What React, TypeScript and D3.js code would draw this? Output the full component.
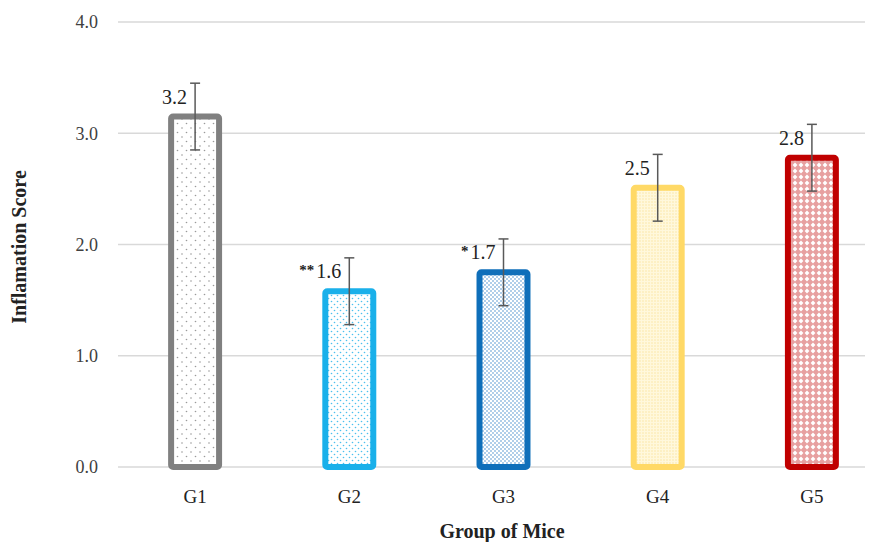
import React from "react";
import * as d3 from "d3";

const categories = ["G1", "G2", "G3", "G4", "G5"];
const values = [3.15, 1.58, 1.75, 2.51, 2.78];
const errors = [0.3, 0.3, 0.3, 0.3, 0.3];
const labels = ["3.2", "1.6", "1.7", "2.5", "2.8"];
const stars = ["", "**", "*", "", ""];
const yTicks = [0, 1, 2, 3, 4];
const strokeColors = ["#808080", "#1ab0ea", "#0f6fba", "#ffd966", "#c00000"];

const W = 877, H = 542;
const font = "'Liberation Serif', 'DejaVu Serif', serif";

export default function App() {
  const x = d3.scaleBand<string>().domain(categories).range([118, 889]).paddingInner(0.65).paddingOuter(0.325);
  const y = d3.scaleLinear().domain([0, 4]).range([467, 22]);
  const sw = 6;
  return (
    <svg width={W} height={H} style={{ position: "absolute", left: 0, top: 0, background: "#fff" }}>
      <defs>
        <pattern id="p0" width="9" height="9" patternUnits="userSpaceOnUse">
          <rect width="9" height="9" fill="#fff" />
          <circle cx="2" cy="2" r="0.8" fill="#9a9a9a" />
          <circle cx="6.5" cy="6.5" r="0.8" fill="#9a9a9a" />
        </pattern>
        <pattern id="p1" width="6" height="6" patternUnits="userSpaceOnUse">
          <rect width="6" height="6" fill="#fff" />
          <circle cx="1.5" cy="1.5" r="0.8" fill="#4cc0ee" />
          <circle cx="4.5" cy="4.5" r="0.8" fill="#4cc0ee" />
        </pattern>
        <pattern id="p2" width="4" height="4" patternUnits="userSpaceOnUse">
          <rect width="4" height="4" fill="#fff" />
          <circle cx="1" cy="1" r="0.75" fill="#3a86c8" />
          <circle cx="3" cy="3" r="0.75" fill="#3a86c8" />
        </pattern>
        <pattern id="p3" width="3" height="3" patternUnits="userSpaceOnUse">
          <rect width="3" height="3" fill="#fff8dc" />
          <circle cx="1" cy="1" r="0.7" fill="#fbe49a" />
        </pattern>
        <pattern id="p4" width="6" height="6" patternUnits="userSpaceOnUse">
          <rect width="6" height="6" fill="#e7a0a0" />
          <path d="M3,0.6 L5.4,3 L3,5.4 L0.6,3 Z" fill="#fff" />
        </pattern>
      </defs>
      {yTicks.map((t) => (
        <g key={t}>
          <line x1={118} x2={865} y1={y(t)} y2={y(t)} stroke="#d9d9d9" strokeWidth={1.3} />
          <text x={98} y={y(t)} dy="0.35em" textAnchor="end" fontFamily={font} fontSize={18} fill="#404040">
            {t.toFixed(1)}
          </text>
        </g>
      ))}
      {categories.map((c, i) => {
        const bx = x(c)!;
        const bw = x.bandwidth();
        const cx = bx + bw / 2;
        const top = y(values[i]);
        return (
          <g key={c}>
            <rect x={bx + sw / 2} y={top} width={bw - sw} height={y(0) - top} fill={`url(#p${i})`}
              stroke={strokeColors[i]} strokeWidth={sw} rx={2} />
            <line x1={cx} x2={cx} y1={y(values[i] + errors[i])} y2={y(values[i] - errors[i])} stroke="#595959" strokeWidth={1.5} />
            <line x1={cx - 5} x2={cx + 5} y1={y(values[i] + errors[i])} y2={y(values[i] + errors[i])} stroke="#595959" strokeWidth={1.5} />
            <line x1={cx - 5} x2={cx + 5} y1={y(values[i] - errors[i])} y2={y(values[i] - errors[i])} stroke="#595959" strokeWidth={1.5} />
            <text x={cx - 8} y={top - 13} textAnchor="end" fontFamily={font} fontSize={20} fill="#222">
              {stars[i] && <tspan fontSize={15} fontWeight="bold" dy="-3" dx="0">{stars[i]}</tspan>}
              {stars[i] ? <tspan dy="3" dx="2">{labels[i]}</tspan> : labels[i]}
            </text>
            <text x={cx} y={503} textAnchor="middle" fontFamily={font} fontSize={19} fill="#222">{c}</text>
          </g>
        );
      })}
      <text transform={`translate(26,${247}) rotate(-90)`} textAnchor="middle" fontFamily={font} fontSize={20} fontWeight="bold" fill="#222">
        Inflamation Score
      </text>
      <text x={502} y={538} textAnchor="middle" fontFamily={font} fontSize={20} fontWeight="bold" fill="#222">
        Group of Mice
      </text>
    </svg>
  );
}
